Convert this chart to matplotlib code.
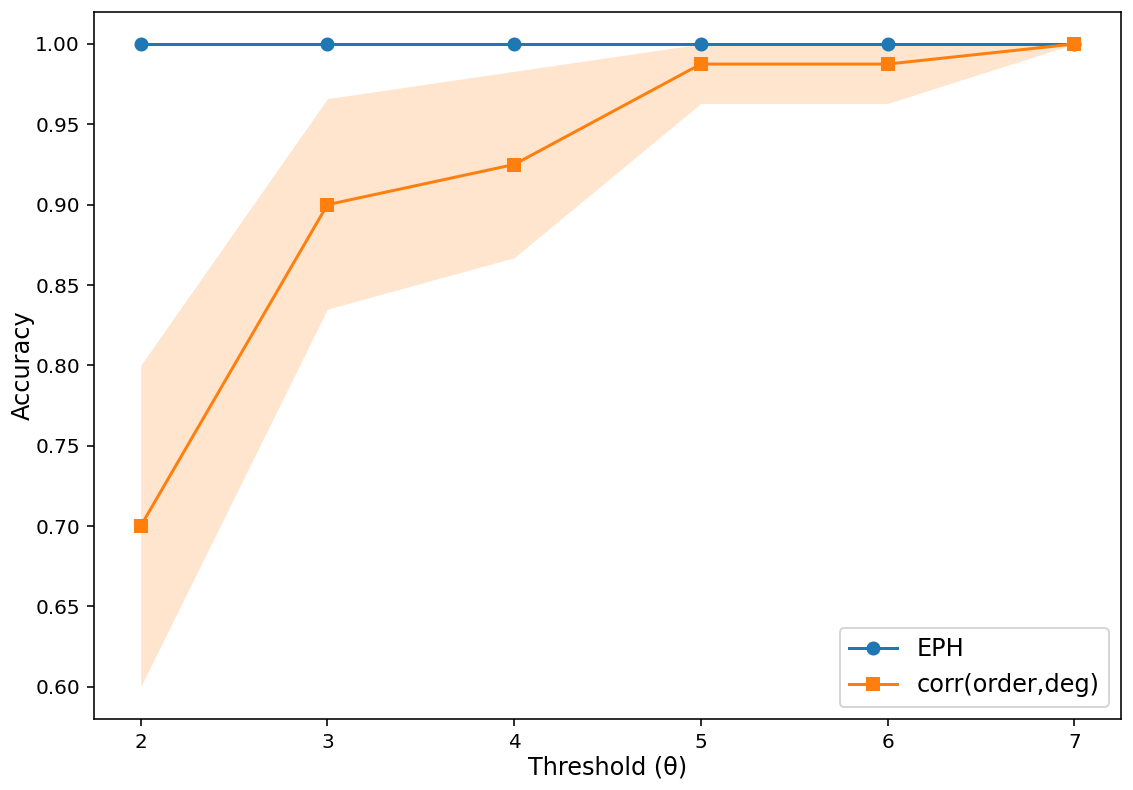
import matplotlib
matplotlib.use("Agg")
import matplotlib.pyplot as plt

thresholds = [2, 3, 4, 5, 6, 7]
eph_acc = [1.0, 1.0, 1.0, 1.0, 1.0, 1.0]
corr_acc = [0.70, 0.90, 0.925, 0.9875, 0.9875, 1.0]
corr_lower = [0.60, 0.835, 0.867, 0.963, 0.963, 1.0]
corr_upper = [0.80, 0.966, 0.983, 1.0, 1.0, 1.0]

fig = plt.figure(figsize=(1133 / 144, 790 / 144), dpi=144)
ax = fig.add_axes([0.083, 0.090, 0.9064, 0.895])

ax.plot(thresholds, eph_acc, marker='o', color='tab:blue', label='EPH')
ax.plot(thresholds, corr_acc, marker='s', color='tab:orange', label='corr(order,deg)')
ax.fill_between(thresholds, corr_lower, corr_upper, color='tab:orange', alpha=0.2, lw=0)

ax.set_xlabel('Threshold (θ)', fontsize=12, labelpad=2)
ax.set_ylabel('Accuracy', fontsize=12, labelpad=0)
ax.legend(loc='lower right', fontsize=12)

fig.savefig('out.png', dpi=144)
